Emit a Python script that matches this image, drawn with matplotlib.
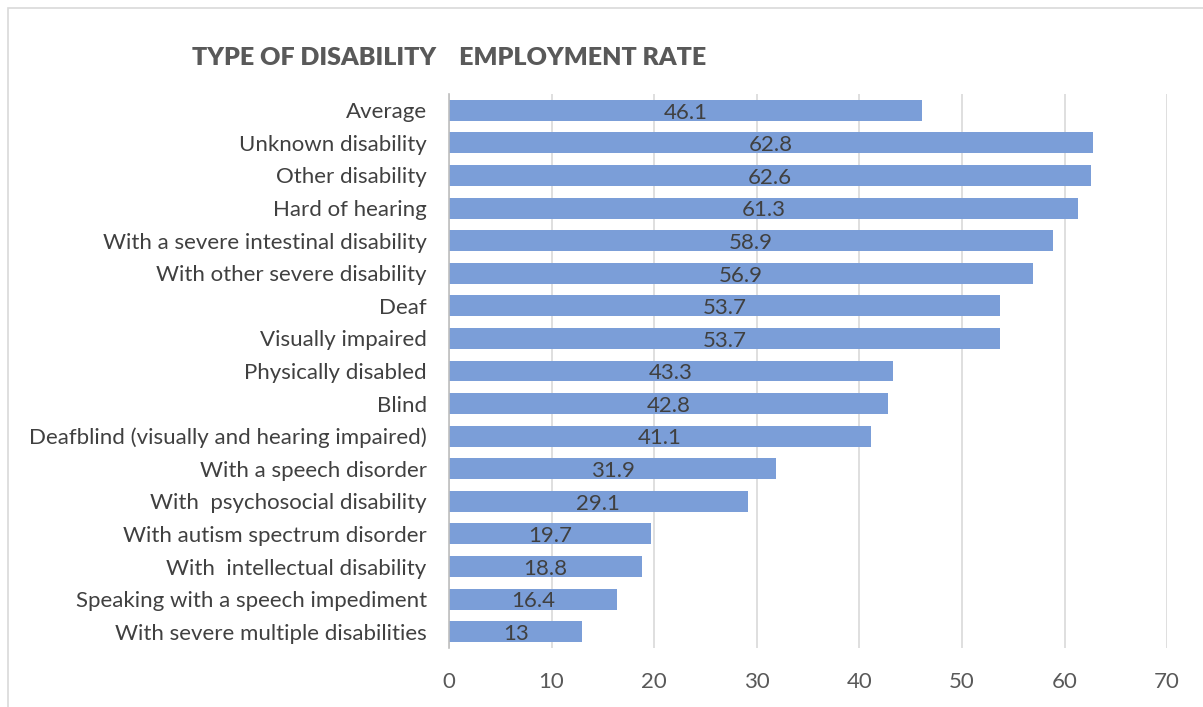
import matplotlib.pyplot as plt
from matplotlib.patches import Rectangle

categories = [
    "Average",
    "Unknown disability",
    "Other disability",
    "Hard of hearing",
    "With a severe intestinal disability",
    "With other severe disability",
    "Deaf",
    "Visually impaired",
    "Physically disabled",
    "Blind",
    "Deafblind (visually and hearing impaired)",
    "With a speech disorder",
    "With  psychosocial disability",
    "With autism spectrum disorder",
    "With  intellectual disability",
    "Speaking with a speech impediment",
    "With severe multiple disabilities",
]
rates = [46.1, 62.8, 62.6, 61.3, 58.9, 56.9, 53.7, 53.7, 43.3, 42.8,
         41.1, 31.9, 29.1, 19.7, 18.8, 16.4, 13]
rate_labels = ["46.1", "62.8", "62.6", "61.3", "58.9", "56.9", "53.7", "53.7",
               "43.3", "42.8", "41.1", "31.9", "29.1", "19.7", "18.8", "16.4", "13"]
x_ticks = [0, 10, 20, 30, 40, 50, 60, 70]

plt.rcParams["font.family"] = ["Lato", "DejaVu Sans"]

fig = plt.figure(figsize=(12.03, 7.07), dpi=100)
ax = fig.add_axes([0.3732, 0.0835, 0.597, 0.7835])

ypos = list(range(len(categories)))
ax.barh(ypos, rates, height=0.64, color="#7b9ed8", zorder=2)
for y, v, lab in zip(ypos, rates, rate_labels):
    ax.text(v / 2, y + 0.07, lab, ha="center", va="center",
            fontsize=16, color="#404040", zorder=3)

ax.set_yticks(ypos)
ax.set_yticklabels(categories, fontsize=16, color="#404040")
ax.set_ylim(len(categories) - 0.5, -0.5)
ax.set_xlim(0, 70)
ax.set_xticks(x_ticks)
ax.set_xticklabels([str(t) for t in x_ticks], fontsize=16, color="#595959")
ax.tick_params(axis="both", length=0)
ax.tick_params(axis="x", pad=17)
ax.tick_params(axis="y", pad=16)
ax.grid(axis="x", color="#d9d9d9", linewidth=1.2, zorder=0)
for s in ["top", "right", "bottom"]:
    ax.spines[s].set_visible(False)
ax.spines["left"].set_color("#bfbfbf")
ax.spines["left"].set_linewidth(1.2)

fig.text(0.160, 0.918, "TYPE OF DISABILITY    EMPLOYMENT RATE",
         fontsize=18, fontweight="heavy", color="#595959", va="center")

fig.patches.append(Rectangle((8 / 1203, -0.1), 1.2, 1 - 8 / 707 + 0.1,
                             transform=fig.transFigure, fill=False,
                             edgecolor="#d9d9d9", linewidth=1.2))

fig.savefig("out.png", dpi=100)
